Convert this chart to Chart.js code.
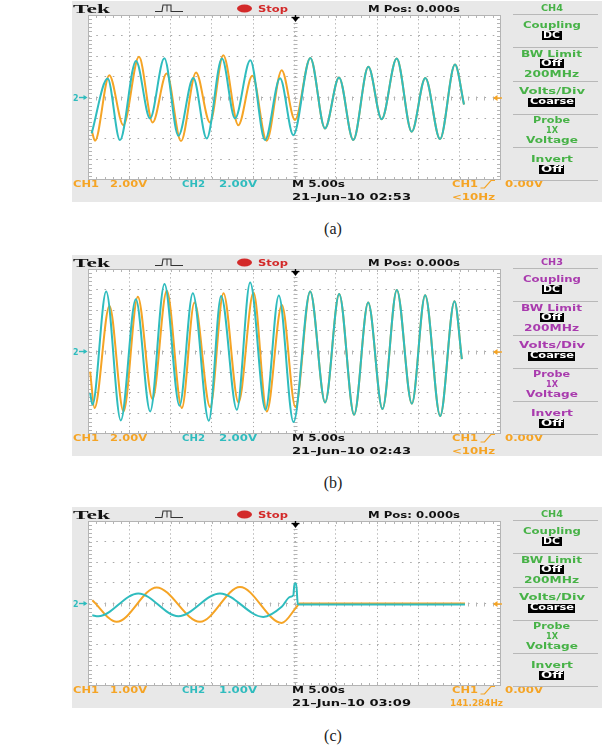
<!DOCTYPE html>
<html><head><meta charset="utf-8">
<script src="https://cdn.jsdelivr.net/npm/chart.js@4.4.0/dist/chart.umd.min.js"></script>
<style>
html,body{margin:0;padding:0;background:#fff;width:604px;height:750px;overflow:hidden;}
.panel{position:absolute;left:0;width:604px;height:203px;}
.gray{position:absolute;left:72px;top:0;width:530px;height:201px;background:#e8e8e8;}
.plot{position:absolute;left:88px;top:14px;width:413px;height:165px;background:#fff;}
.t{position:absolute;white-space:nowrap;font-family:"DejaVu Sans",sans-serif;font-weight:bold;font-size:9px;line-height:10px;transform-origin:0 50%;}
.box{position:absolute;background:#000;height:9px;}
.sep{position:absolute;left:513px;width:85px;height:1px;background:#b8b8b8;}
.cap{position:absolute;font-family:"Liberation Serif",serif;font-size:16px;line-height:18px;transform:translate(-50%,-50%);color:#222;}
svg.ov{position:absolute;left:0;top:0;width:604px;height:203px;overflow:visible;}
</style></head><body>
<script>
// ---------- data (time in s, 5 s/div, M Pos 0.000s at centre; volts) ----------
// Panel (a): CH1 2.00V/div, CH2 2.00V/div
const timeA_CH1 = [-24.56,-24.15,-22.42,-20.72,-18.83,-17.17,-15.48,-13.74,-11.92,-10.23,-8.62,-6.80,-5.10,-3.37,-1.55,0.06,1.92,3.69,5.39,7.12,8.94,10.55,12.37,14.19,15.84,17.62,19.43,20.52];
const voltA_CH1 = [-3.16,-4.19,2.16,-2.68,3.94,-2.42,2.32,-4.23,2.42,-2.42,4.10,-2.68,2.10,-4.19,2.65,-2.19,3.84,-3.00,1.94,-4.13,2.97,-2.10,3.77,-3.32,1.90,-4.03,3.19,-0.68];
const timeA_CH2 = [-24.56,-22.62,-21.13,-19.19,-17.49,-15.76,-14.06,-12.25,-10.63,-8.78,-7.20,-5.35,-3.57,-1.75,-0.14,1.92,3.69,5.39,7.12,8.94,10.55,12.37,14.19,15.84,17.62,19.43,20.52];
const voltA_CH2 = [-3.48,1.84,-4.13,3.55,-2.03,3.81,-3.71,1.90,-3.97,3.77,-2.03,3.61,-4.13,1.87,-3.65,3.84,-3.00,1.94,-4.13,2.97,-2.10,3.77,-3.32,1.90,-4.03,3.19,-0.68];
// Panel (b): CH1 2.00V/div, CH2 2.00V/div
const timeB_CH1 = [-24.74,-24.21,-22.40,-20.70,-18.97,-17.19,-15.46,-13.64,-12.11,-10.21,-8.60,-6.78,-4.96,-3.35,-1.53,0.12,1.90,3.71,5.41,7.22,8.92,10.65,12.39,14.21,15.82,17.64,19.37,20.26];
const voltB_CH1 = [-1.94,-5.48,4.42,-5.81,5.32,-4.61,5.90,-5.48,4.74,-5.39,5.65,-4.94,5.71,-5.81,4.52,-5.39,5.81,-4.94,5.58,-6.13,4.74,-5.58,5.97,-5.06,5.45,-6.26,4.87,-0.74];
const timeB_CH2 = [-24.74,-24.46,-22.80,-21.03,-19.21,-17.47,-15.74,-13.92,-12.31,-10.37,-8.88,-6.98,-5.37,-3.51,-1.90,-0.12,1.90,3.71,5.41,7.22,8.92,10.65,12.39,14.21,15.82,17.64,19.37,20.26];
const voltB_CH2 = [-4.03,-5.16,5.81,-6.68,5.06,-5.81,6.55,-5.26,5.65,-6.71,5.39,-5.65,6.68,-5.65,5.42,-6.84,5.81,-4.94,5.58,-6.13,4.74,-5.58,5.97,-5.06,5.45,-6.26,4.87,-0.74];
// Panel (c): CH1 1.00V/div, CH2 1.00V/div
const timeC_CH1 = [-24.48,-21.53,-16.69,-11.44,-6.60,-1.55,0.26,0.59,20.64];
const voltC_CH1 = [0.16,-0.89,0.78,-0.89,0.80,-0.94,-0.16,0.00,0.00];
const timeC_CH2 = [-24.48,-23.75,-18.91,-14.06,-9.02,-3.77,-1.55,-0.54,-0.14,0.00,0.20,0.40,0.70,20.64];
const voltC_CH2 = [-0.57,-0.62,0.49,-0.62,0.49,-0.65,-0.16,0.32,0.40,0.97,0.97,-0.03,-0.05,-0.05];

const timeRange = [-25, 25];
const timeStep = 5;
const voltRangeAB = [-8, 8], voltStepAB = 2;
const voltRangeC = [-4, 4], voltStepC = 1;

const ORANGE = '#F5A425', CYAN = '#2FBCBE', GREEN = '#47B247', MAGENTA = '#A93BAE', RED = '#D32A2A';

function pts(t, v){ return t.map((x,i)=>({x:x, y:v[i]})); }

const graticule = {
  id:'graticule',
  beforeDatasetsDraw(chart){
    const {ctx, chartArea:a, scales:{x,y}} = chart;
    ctx.save();
    ctx.strokeStyle = '#b4b4b4'; ctx.lineWidth = 1;
    ctx.strokeRect(a.left+0.5, a.top+0.5, a.right-a.left-1, a.bottom-a.top-1);
    ctx.beginPath();
    const cx = Math.round(x.getPixelForValue((x.min+x.max)/2))+0.5;
    const cy = Math.round(y.getPixelForValue((y.min+y.max)/2))+0.5;
    for (let i=0;i<=50;i++){
      const px = Math.round(x.getPixelForValue(x.min + i*(x.max-x.min)/50))+0.5;
      ctx.moveTo(px, a.top); ctx.lineTo(px, a.top+3);
      ctx.moveTo(px, a.bottom); ctx.lineTo(px, a.bottom-3);
      ctx.moveTo(px, cy-2); ctx.lineTo(px, cy+2);
    }
    for (let j=0;j<=40;j++){
      const py = Math.round(y.getPixelForValue(y.min + j*(y.max-y.min)/40))+0.5;
      ctx.moveTo(a.left, py); ctx.lineTo(a.left+4, py);
      ctx.moveTo(a.right, py); ctx.lineTo(a.right-4, py);
      ctx.moveTo(cx-2, py); ctx.lineTo(cx+2, py);
    }
    ctx.stroke();
    ctx.restore();
  }
};

function makeChart(el, d1, d2, yr, ys){
  const c = document.createElement('canvas');
  el.appendChild(c);
  new Chart(c, {
    type:'line',
    data:{datasets:[
      {label:'CH2', data:d2, borderColor:CYAN, borderWidth:2, pointRadius:0, cubicInterpolationMode:'monotone', order:0},
      {label:'CH1', data:d1, borderColor:ORANGE, borderWidth:2, pointRadius:0, cubicInterpolationMode:'monotone', order:1}
    ]},
    options:{
      responsive:true, maintainAspectRatio:false, animation:false, events:[],
      layout:{padding:0},
      plugins:{legend:{display:false}, tooltip:{enabled:false}},
      scales:{
        x:{type:'linear', min:timeRange[0], max:timeRange[1], ticks:{display:false, stepSize:timeStep},
           grid:{color:'#a9a9a9', drawTicks:false, lineWidth:1}, border:{display:false, dash:[1.2,2.93]}},
        y:{type:'linear', min:yr[0], max:yr[1], ticks:{display:false, stepSize:ys},
           grid:{color:'#a9a9a9', drawTicks:false, lineWidth:1}, border:{display:false, dash:[1.6,6.66]}}
      }
    },
    plugins:[graticule]
  });
}

function txt(parent, s, x, y, w, color, o={}){
  const e = document.createElement('span');
  e.className = 't'; e.textContent = s;
  e.style.color = color;
  if (o.size){ e.style.fontSize = o.size+'px'; e.style.lineHeight = (o.size+2)+'px'; }
  if (o.font){ e.style.fontFamily = o.font; }
  parent.appendChild(e);
  const r = e.getBoundingClientRect();
  const left = o.center ? x - w/2 : x;
  e.style.left = left+'px';
  e.style.top = (y - r.height/2)+'px';
  e.style.transform = 'scaleX('+(w/r.width)+')';
  return e;
}
function boxed(parent, s, cx, y, w){
  const b = document.createElement('div');
  b.className='box';
  b.style.left=(cx-w/2)+'px'; b.style.top=(y-4.5)+'px'; b.style.width=w+'px';
  parent.appendChild(b);
  txt(parent, s, cx, y, w-3, '#fff', {center:true, size:8});
}

function panel(top, cfg){
  const p = document.createElement('div');
  p.className='panel'; p.style.top = top+'px';
  document.body.appendChild(p);
  const g = document.createElement('div'); g.className='gray'; p.appendChild(g);
  const pl = document.createElement('div'); pl.className='plot'; p.appendChild(pl);
  makeChart(pl, cfg.d1, cfg.d2, cfg.yr, cfg.ys);

  // icons
  const ns='http://www.w3.org/2000/svg';
  const svg=document.createElementNS(ns,'svg'); svg.setAttribute('class','ov');
  svg.innerHTML =
    '<polyline points="155,10.5 162,10.5 163,4 171,4 171,10.5 183,10.5" fill="none" stroke="#333" stroke-width="1.1"/>'+
    '<line x1="167" y1="4" x2="167" y2="10.5" stroke="#333" stroke-width="1"/>'+
    '<ellipse cx="244.5" cy="7.5" rx="7.5" ry="4" fill="'+RED+'"/>'+
    '<line x1="291.5" y1="16.5" x2="299.5" y2="16.5" stroke="#000" stroke-width="1.4"/>'+
    '<polygon points="292.5,17 298.5,17 295.5,21" fill="#000"/>'+
    '<line x1="295.5" y1="14" x2="295.5" y2="18" stroke="#000" stroke-width="1.4"/>'+
    '<line x1="79" y1="96.5" x2="86" y2="96.5" stroke="'+CYAN+'" stroke-width="1.4"/>'+
    '<polygon points="83.5,94 87.5,96.5 83.5,99" fill="'+CYAN+'"/>'+
    '<line x1="494" y1="97" x2="502" y2="97" stroke="'+ORANGE+'" stroke-width="1.4"/>'+
    '<polygon points="497.5,94 493,97 497.5,100" fill="'+ORANGE+'"/>'+
    '<polyline points="480.5,187 484.5,187 491,179.5 495,179.5" fill="none" stroke="'+ORANGE+'" stroke-width="1.2"/>';
  p.appendChild(svg);

  // top row
  txt(p,'Tek',73,7.5,37,'#111',{size:13,font:'"Liberation Serif",serif'});
  txt(p,'Stop',258,7.5,30,RED);
  txt(p,'M Pos: 0.000s',368,7.5,92,'#111');
  txt(p,'2',73,96.5,5.5,CYAN);

  // bottom rows
  txt(p,'CH1',73,183,26,ORANGE);
  txt(p,cfg.v1,110,183,37,ORANGE);
  txt(p,'CH2',182,183,23,CYAN);
  txt(p,cfg.v2,219,183,38,CYAN);
  txt(p,'M 5.00s',292,183,53,'#111');
  txt(p,cfg.date,292,196,119,'#111');
  txt(p,'CH1',452,183,26,ORANGE);
  txt(p,'0.00V',505,183,38,ORANGE);
  txt(p,cfg.freq,cfg.freqX,196,cfg.freqW,ORANGE);

  // side menu
  const C = cfg.sideColor, cx = 551.5;
  txt(p,cfg.ch,cx,6.5,22,C,{center:true});
  [13,46,80,112.5,146,179].forEach(y=>{const s=document.createElement('div');s.className='sep';s.style.top=y+'px';p.appendChild(s);});
  txt(p,'Coupling',cx,24,58,C,{center:true});
  boxed(p,'DC',cx,34.5,20);
  txt(p,'BW Limit',cx,52.5,61,C,{center:true});
  boxed(p,'Off',cx,62.5,24);
  txt(p,'200MHz',cx,72.5,55,C,{center:true});
  txt(p,'Volts/Div',cx,90,66,C,{center:true});
  boxed(p,'Coarse',cx,101,47);
  txt(p,'Probe',cx,119,37,C,{center:true});
  txt(p,'1X',cx,129,12,C,{center:true});
  txt(p,'Voltage',cx,139,52,C,{center:true});
  txt(p,'Invert',cx,157.5,42,C,{center:true});
  boxed(p,'Off',cx,168.5,25);
}

function caption(s, y){
  const e=document.createElement('div'); e.className='cap'; e.textContent=s;
  e.style.left='333px'; e.style.top=y+'px'; document.body.appendChild(e);
}

panel(1,  {d1:pts(timeA_CH1,voltA_CH1), d2:pts(timeA_CH2,voltA_CH2), yr:voltRangeAB, ys:voltStepAB,
           v1:'2.00V', v2:'2.00V', date:'21\u2013Jun\u201310 02:53', freq:'<10Hz', freqX:452, freqW:43, ch:'CH4', sideColor:GREEN});
panel(255,{d1:pts(timeB_CH1,voltB_CH1), d2:pts(timeB_CH2,voltB_CH2), yr:voltRangeAB, ys:voltStepAB,
           v1:'2.00V', v2:'2.00V', date:'21\u2013Jun\u201310 02:43', freq:'<10Hz', freqX:452, freqW:43, ch:'CH3', sideColor:MAGENTA});
panel(507,{d1:pts(timeC_CH1,voltC_CH1), d2:pts(timeC_CH2,voltC_CH2), yr:voltRangeC, ys:voltStepC,
           v1:'1.00V', v2:'1.00V', date:'21\u2013Jun\u201310 03:09', freq:'141.284Hz', freqX:450, freqW:53, ch:'CH4', sideColor:GREEN});
caption('(a)',229);
caption('(b)',483);
caption('(c)',736);
</script>
</body></html>
